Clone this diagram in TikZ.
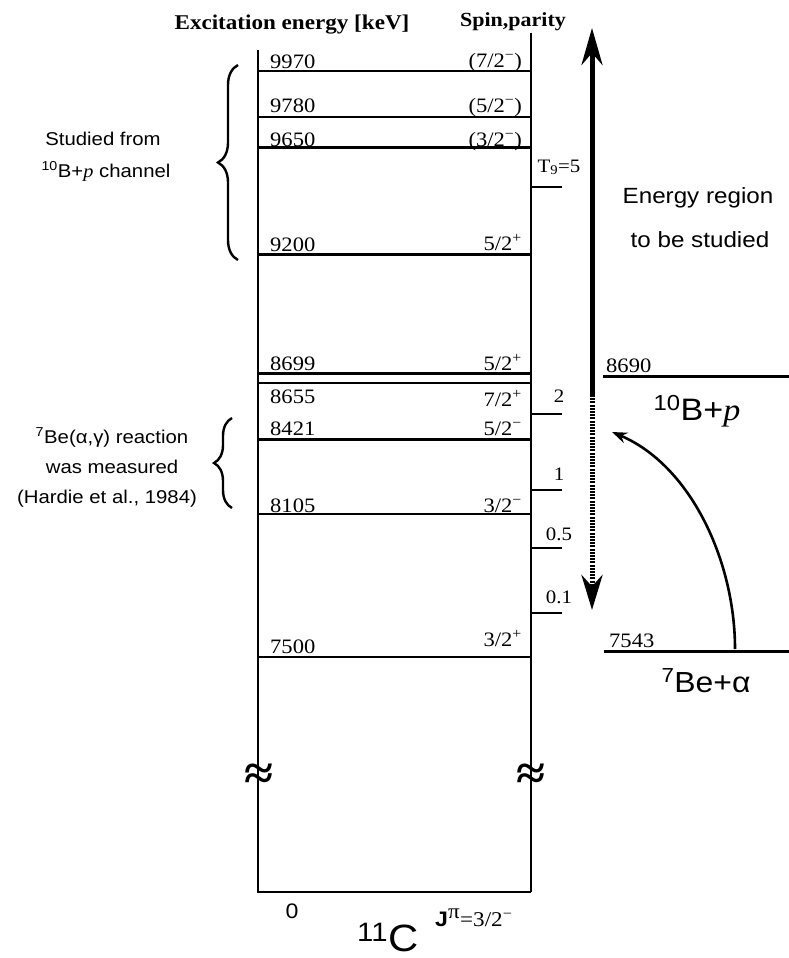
\documentclass[tikz,border=0pt]{standalone}
\usepackage{fontspec}
\setmainfont{Liberation Serif}[FakeStretch=1.1]
\setsansfont{Liberation Sans}[FakeStretch=1.1]
\usepackage{tikz}
\usetikzlibrary{arrows.meta, positioning, decorations.pathreplacing}
\newcommand{\fsz}[1]{\fontsize{#1}{#1}\selectfont}

\tikzset{
  elab/.style={anchor=base west, inner sep=0pt, font=\fsz{20.5}},
  jlab/.style={anchor=base east, inner sep=0pt, font=\fsz{20.5}},
  tlab/.style={anchor=base, inner sep=0pt, font=\fsz{19}},
  annot/.style={anchor=base, inner sep=0pt, font=\sffamily\fsz{18.5}},
  bigannot/.style={anchor=base, inner sep=0pt, font=\sffamily\fsz{22}},
  curlybrace/.style={decorate, decoration={brace, amplitude=#1}, line width=2.4pt},
}

\begin{document}
\begin{tikzpicture}[x=1pt, y=1pt, >=Stealth]
  \useasboundingbox (0,0) rectangle (789,-958);

  % headers
  \node[anchor=base, inner sep=0pt, font=\bfseries\fsz{21}] (hdrexc) at (292,-30) {Excitation energy [keV]};
  \node[anchor=base, inner sep=0pt, font=\bfseries\fsz{20}] (hdrspin) at (513,-27) {Spin,parity};

  % 11C box
  \draw[line width=2pt] (258,-50) -- (258,-892) -- (531,-892);
  \draw[line width=2.5pt] (531,-33) -- (531,-892);
  \node[inner sep=0pt, font=\bfseries\fsz{48}] (breakl) at (259,-777) {≈};
  \node[inner sep=0pt, font=\bfseries\fsz{48}] (breakr) at (531,-777) {≈};

  % levels: line / energy base / energy / spin base / spin / width
  \foreach \y/\b/\e/\s/\j/\w in {
      71/68/9970/67/{(7/2\textsuperscript{−})}/1.6,
      117/112/9780/112/{(5/2\textsuperscript{−})}/1.6,
      147/146/9650/146/{(3/2\textsuperscript{−})}/3,
      254/251/9200/250/{5/2\textsuperscript{+}}/3,
      373/370/8699/370/{5/2\textsuperscript{+}}/3,
      439/435/8421/435/{5/2\textsuperscript{−}}/3,
      514/512/8105/512/{3/2\textsuperscript{−}}/1.6,
      657/653/7500/646/{3/2\textsuperscript{+}}/1.6}{
    \draw[line width=\w pt] (258,-\y) -- (531,-\y);
    \node[elab] (e\e) at (270,-\b) {\e};
    \node[jlab] (j\e) at (522,-\s) {\j};
  }
  \draw[line width=1.6pt] (258,-383) -- (531,-383);
  \node[elab] (e8655) at (270,-403) {8655};
  \node[jlab] (j8655) at (522,-406) {7/2\textsuperscript{+}};

  % temperature marks
  \foreach \y/\b/\t in {187/172/{T\textsubscript{9}=5}, 414/402/2, 490/480/1, 548/540/0.5, 613/603/0.1}{
    \draw[line width=2.5pt] (531,-\y) -- (562,-\y);
    \node[tlab] at (559,-\b) {\t};
  }

  % energy region arrow
  \coordinate (arrtop) at (592,-28);
  \coordinate (arrmid) at (592,-395);
  \coordinate (arrbot) at (592,-610);
  \draw[line width=5pt, -{Stealth[length=37pt, width=21pt]}] (arrmid) -- (arrtop);
  \draw[line width=5pt, dash pattern=on 2pt off 1.2pt, -{Stealth[length=35pt, width=21pt]}] (arrmid) -- (arrbot);
  \node[bigannot] (region1) at (698,-203) {Energy region};
  \node[bigannot] (region2) at (700,-247) {to be studied};

  % thresholds
  \draw[line width=3pt] (603,-376) -- (789,-376);
  \node[elab] (thrbp) at (606,-372) {8690};
  \node[anchor=base, inner sep=0pt, font=\sffamily\fsz{31}] (chbp) at (697,-420) {\textsuperscript{10}B+{\rmfamily\itshape p}};
  \draw[line width=3pt] (604,-651) -- (789,-651);
  \node[elab] (thrba) at (609,-647) {7543};
  \node[anchor=base, inner sep=0pt, font=\sffamily\fsz{29}] (chba) at (706,-692) {\textsuperscript{7}Be+α};
  \coordinate (curvestart) at (735,-649);
  \coordinate (curveend) at (612,-432);
  \draw[line width=2.6pt, -{Stealth[length=15pt, width=11pt]}] (curvestart) .. controls (735,-560) and (690,-465) .. (curveend);

  % left remarks
  \draw[curlybrace=20pt] (238,-260) -- (238,-65);
  \node[annot] (stud1) at (103,-145) {Studied from};
  \node[annot] (stud2) at (106,-177) {\textsuperscript{10}B+{\rmfamily\itshape p} channel};
  \draw[curlybrace=18pt] (232,-508) -- (232,-418);
  \node[annot] (meas1) at (112,-443) {\textsuperscript{7}Be(α,γ) reaction};
  \node[annot] (meas2) at (112,-473) {was measured};
  \node[annot] (meas3) at (107,-503) {(Hardie et al., 1984)};

  % ground state
  \node[anchor=base, inner sep=0pt, font=\sffamily\fsz{21}] (gs0) at (292,-918) {0};
  \node[anchor=base west, inner sep=0pt, font=\sffamily\fsz{38}] (nucl) at (357,-951) {\textsuperscript{11}C};
  \node[anchor=base west, inner sep=0pt, font=\fsz{21}] (gsjp) at (435,-926) {{\sffamily\bfseries J}\textsuperscript{\fsz{21}π}=3/2\textsuperscript{−}};
\end{tikzpicture}
\end{document}
